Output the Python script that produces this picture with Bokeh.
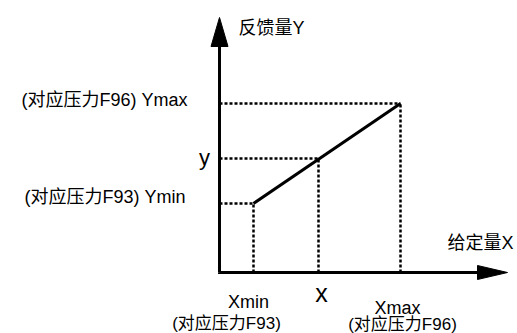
from bokeh.plotting import figure
from bokeh.models import Range1d, ColumnDataSource
from bokeh.core.properties import value
from bokeh.embed import file_html
from bokeh.resources import INLINE

# ---- diagram values (origin at the axes' crossing) ----
x_min, x_val, x_max = 34, 99, 181
y_min, y_val, y_max = 69, 114, 169
x_axis_len = 288
y_axis_len = 255

# labels: text, x, y, size, align, baseline
label_text = ["反馈量Y", "(对应压力F96) Ymax", "y", "(对应压力F93) Ymin", "给定量X",
              "x", "Xmin", "Xmax", "(对应压力F93)", "(对应压力F96)"]
label_x = [19, -32, -15, -34, 228, 102, 29, 178, 7, 183]
label_y = [245, 173, 115, 76, 30, -20, -29, -35, -51, -52]
label_size = ["18px", "18px", "22px", "18px", "18px", "25px", "18px", "18px", "17px", "17px"]
label_align = ["left", "right", "center", "right", "left", "center", "center", "center", "center", "center"]
label_base = ["middle", "middle", "alphabetic", "middle", "middle", "alphabetic",
              "alphabetic", "alphabetic", "middle", "middle"]

FONT = "Liberation Sans, Noto Sans CJK SC"

p = figure(width=517, height=333, output_backend="svg", toolbar_location=None,
           x_range=Range1d(-219, 298), y_range=Range1d(-61, 272),
           x_axis_location=None, y_axis_location=None, min_border=0)
p.grid.visible = False
p.outline_line_color = None
p.background_fill_color = "white"
p.border_fill_color = "white"

# dotted guide lines
p.multi_line(xs=[[0, x_max], [0, x_val], [0, x_min], [x_min, x_min], [x_val, x_val], [x_max, x_max]],
             ys=[[y_max, y_max], [y_val, y_val], [y_min, y_min], [0, y_min], [0, y_val], [0, y_max]],
             line_color="black", line_width=2.5, line_dash="3 2")

# characteristic line
p.line([x_min, x_max], [y_min, y_max], line_color="black", line_width=3)

# axes
head_len_x, head_half_x = 30, 7
head_len_y, head_half_y = 29, 8.5
p.line([0, x_axis_len - head_len_x + 2], [0, 0], line_color="black", line_width=3)
p.line([0, 0], [0, y_axis_len - head_len_y + 2], line_color="black", line_width=3)
p.line([0, 0], [-1.5, 0], line_color="black", line_width=3)
p.patches(xs=[[x_axis_len - head_len_x, x_axis_len, x_axis_len - head_len_x],
              [-head_half_y, 0, head_half_y]],
          ys=[[-head_half_x, 0, head_half_x],
              [y_axis_len - head_len_y, y_axis_len, y_axis_len - head_len_y]],
          fill_color="black", line_color="black", line_width=1)

src = ColumnDataSource(dict(text=label_text, x=label_x, y=label_y, size=label_size,
                            align=label_align, base=label_base))
p.text(x="x", y="y", text="text", source=src, text_font=value(FONT),
       text_font_size="size", text_align="align", text_baseline="base", text_color="black")

open("out.html", "w").write(file_html(p, INLINE))
